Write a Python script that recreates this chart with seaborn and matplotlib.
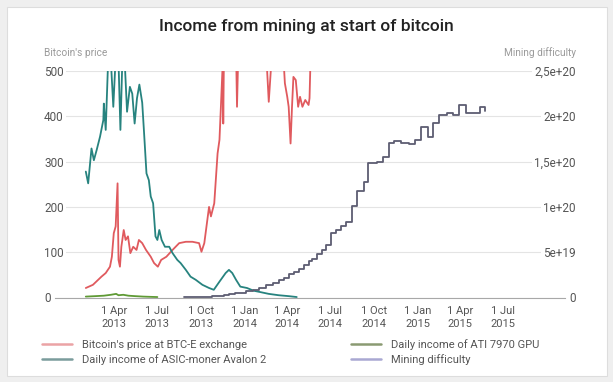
import pandas as pd
import matplotlib.pyplot as plt
import seaborn as sns
from matplotlib.lines import Line2D
from matplotlib.patches import Rectangle

# Bitcoin's price at BTC-E exchange (USD, values above 500 are cut by the axis)
btc_dates = ['2013-01-31', '2013-02-15', '2013-02-26', '2013-03-05', '2013-03-14', '2013-03-23',
             '2013-03-27', '2013-03-31', '2013-04-04', '2013-04-08', '2013-04-10', '2013-04-13',
             '2013-04-16', '2013-04-21', '2013-04-25', '2013-04-30', '2013-05-05', '2013-05-11',
             '2013-05-18', '2013-05-23', '2013-05-30', '2013-06-07', '2013-06-17', '2013-06-24',
             '2013-07-02', '2013-07-09', '2013-07-20', '2013-08-02', '2013-08-16', '2013-08-30',
             '2013-09-13', '2013-09-27', '2013-10-02', '2013-10-08', '2013-10-18', '2013-10-22',
             '2013-10-29', '2013-11-05', '2013-11-09', '2013-11-12', '2013-11-16', '2013-11-17',
             '2013-11-19', '2013-11-25', '2013-12-01', '2013-12-10', '2013-12-16', '2013-12-20',
             '2014-01-05', '2014-01-25', '2014-02-10', '2014-02-21', '2014-03-01', '2014-03-15',
             '2014-03-25', '2014-03-27', '2014-04-01', '2014-04-04', '2014-04-08', '2014-04-11',
             '2014-04-14', '2014-04-19', '2014-04-24', '2014-04-28', '2014-05-03', '2014-05-09',
             '2014-05-16', '2014-05-18', '2014-05-20']
btc_price = [21, 28, 39, 46, 54, 68, 90, 142, 157, 252, 83, 68, 112, 149, 127, 135, 98, 112,
             105, 127, 120, 105, 90, 76, 68, 83, 90, 105, 120, 123, 123, 120, 101, 120, 200, 179,
             208, 318, 348, 421, 520, 384, 600, 900, 1000, 800, 421, 600, 850, 750, 650, 432, 560, 600,
             510, 473, 443, 421, 340, 420, 487, 480, 421, 443, 421, 436, 425, 440, 520]

# Daily income of ASIC-moner Avalon 2
asic_dates = ['2013-01-31', '2013-02-05', '2013-02-12', '2013-02-17', '2013-02-23', '2013-03-02',
              '2013-03-09', '2013-03-10', '2013-03-14', '2013-03-19', '2013-03-24', '2013-03-30',
              '2013-04-04', '2013-04-10', '2013-04-14', '2013-04-18', '2013-04-24', '2013-04-28',
              '2013-05-04', '2013-05-09', '2013-05-14', '2013-05-19', '2013-05-24', '2013-05-30',
              '2013-06-03', '2013-06-08', '2013-06-13', '2013-06-17', '2013-06-22', '2013-06-27',
              '2013-07-01', '2013-07-05', '2013-07-10', '2013-07-17', '2013-07-26', '2013-08-02',
              '2013-08-12', '2013-08-19', '2013-08-30', '2013-09-09', '2013-09-20', '2013-10-04',
              '2013-10-18', '2013-10-28', '2013-11-09', '2013-11-22', '2013-11-29', '2013-12-06',
              '2013-12-14', '2013-12-23', '2014-01-06', '2014-01-20', '2014-02-03', '2014-02-21',
              '2014-03-14', '2014-04-04', '2014-04-21']
asic_income = [278, 252, 329, 303, 326, 355, 392, 428, 370, 520, 540, 421, 530, 520, 370, 520,
               500, 410, 465, 450, 384, 440, 470, 430, 362, 274, 259, 223, 208, 135, 127, 149,
               127, 112, 112, 98, 83, 76, 61, 46, 39, 28, 21, 17, 35, 54, 61, 54, 39, 24, 21,
               15, 12, 8, 5, 3, 1]

# Daily income of ATI 7970 GPU
gpu_dates = ['2013-01-31', '2013-02-20', '2013-03-10', '2013-03-25', '2013-04-05', '2013-04-10',
             '2013-04-20', '2013-05-01', '2013-05-15', '2013-06-01', '2013-06-15', '2013-07-01']
gpu_income = [2, 3, 4, 6, 8, 5, 6, 4, 3, 2, 1.5, 1]

# Mining difficulty (in units of 1e20)
diff_dates = ['2013-08-27', '2013-09-10', '2013-09-24', '2013-10-08', '2013-10-25', '2013-11-07',
              '2013-11-19', '2013-11-30', '2013-12-12', '2013-12-23', '2014-01-05', '2014-01-18',
              '2014-02-01', '2014-02-15', '2014-03-01', '2014-03-15', '2014-03-26', '2014-04-05',
              '2014-04-16', '2014-04-26', '2014-05-07', '2014-05-17', '2014-05-24', '2014-06-03',
              '2014-06-14', '2014-06-21', '2014-07-02', '2014-07-12', '2014-07-23', '2014-08-02',
              '2014-08-15', '2014-08-26', '2014-09-09', '2014-09-19', '2014-10-07', '2014-10-19',
              '2014-11-02', '2014-11-13', '2014-11-28', '2014-12-14', '2014-12-26', '2015-01-08',
              '2015-01-22', '2015-02-03', '2015-02-15', '2015-03-03', '2015-03-17', '2015-03-29',
              '2015-04-14', '2015-05-12', '2015-05-24']
difficulty = [0.003, 0.004, 0.006, 0.009, 0.013, 0.018, 0.025, 0.035, 0.045, 0.055, 0.068, 0.085,
              0.10, 0.14, 0.16, 0.19, 0.22, 0.26, 0.285, 0.32, 0.36, 0.40, 0.43, 0.48, 0.525, 0.58,
              0.71, 0.74, 0.79, 0.83, 1.01, 1.17, 1.28, 1.49, 1.50, 1.55, 1.70, 1.73, 1.71, 1.69,
              1.74, 1.88, 1.77, 1.93, 2.01, 2.04, 2.01, 2.13, 2.04, 2.10, 2.06]

tick_dates = ['2013-04-01', '2013-07-01', '2013-10-01', '2014-01-01', '2014-04-01',
              '2014-07-01', '2014-10-01', '2015-01-01', '2015-04-01', '2015-07-01']
tick_labels = ['1 Apr\n2013', '1 Jul\n2013', '1 Oct\n2013', '1 Jan\n2014', '1 Apr\n2014',
               '1 Jul\n2014', '1 Oct\n2014', '1 Jan\n2015', '1 Apr\n2015', '1 Jul\n2015']
left_ticks = [0, 100, 200, 300, 400, 500]
right_ticks = [0, 0.5e20, 1e20, 1.5e20, 2e20, 2.5e20]
right_labels = ['0', '5e+19', '1e+20', '1,5e+20', '2e+20', '2,5e+20']

series_names = ["Bitcoin's price at BTC-E exchange", "Daily income of ASIC-moner Avalon 2",
                "Daily income of ATI 7970 GPU", "Mining difficulty"]
line_colors = ['#e05a5e', '#27837f', '#5f9a35', '#5d5d72']
legend_colors = ['#eba3a5', '#7a9c9c', '#8a9a72', '#a9a8d2']

sns.set_theme(style='white')
plt.rcParams['font.family'] = ['Roboto', 'DejaVu Sans']

W, H = 613, 382
fig = plt.figure(figsize=(W / 100, H / 100), dpi=100, facecolor='#efefef')
fig.add_artist(Rectangle((7 / W, 1 - 376 / H), 600 / W, 369 / H, transform=fig.transFigure,
                         facecolor='white', edgecolor='#dddddd', lw=0.8, zorder=-1))

ax = fig.add_axes([55 / W, 1 - 297.5 / H, 510 / W, 226.5 / H])
ax.patch.set_visible(False)

btc = pd.DataFrame({'date': pd.to_datetime(btc_dates), 'value': btc_price})
asic = pd.DataFrame({'date': pd.to_datetime(asic_dates), 'value': asic_income})
gpu = pd.DataFrame({'date': pd.to_datetime(gpu_dates), 'value': gpu_income})
diff = pd.DataFrame({'date': pd.to_datetime(diff_dates), 'value': [d * 1e20 for d in difficulty]})

sns.lineplot(data=btc, x='date', y='value', ax=ax, color=line_colors[0], linewidth=1.3)
sns.lineplot(data=asic, x='date', y='value', ax=ax, color=line_colors[1], linewidth=1.3)
sns.lineplot(data=gpu, x='date', y='value', ax=ax, color=line_colors[2], linewidth=1.3)

ax.set_xlim(pd.Timestamp('2012-11-27'), pd.Timestamp('2015-11-08'))
ax.set_ylim(0, 500)
ax.set_xlabel('')
ax.set_ylabel('')

ax2 = ax.twinx()
sns.lineplot(data=diff, x='date', y='value', ax=ax2, color=line_colors[3], linewidth=1.3,
             drawstyle='steps-post')
ax2.set_ylim(0, 2.5e20)
ax2.set_xlim(pd.Timestamp('2012-11-27'), pd.Timestamp('2015-11-08'))
ax2.set_ylabel('')
ax2.set_xlabel('')

# axes styling
ax.grid(axis='y', color='#e4e4e4', lw=0.8)
ax.grid(axis='x', visible=False)
for s in ['top', 'left', 'right']:
    ax.spines[s].set_visible(False)
ax.spines['bottom'].set_color('#a8a8a8')
ax.spines['bottom'].set_linewidth(0.8)
for s in ax2.spines.values():
    s.set_visible(False)
ax2.grid(False)

ax.set_xticks(pd.to_datetime(tick_dates))
ax.set_xticklabels(tick_labels)
ax.tick_params(axis='x', length=4, width=0.8, color='#b0b0b0', labelsize=8,
               labelcolor='#555555', pad=2)
for lbl in ax.get_xticklabels():
    lbl.set_linespacing(1.45)

ax.set_yticks(left_ticks)
ax.set_yticklabels([str(t) for t in left_ticks])
ax.tick_params(axis='y', length=0, pad=7.9, labelsize=8.5, labelcolor='#555555')
for lbl in ax.get_yticklabels():
    lbl.set_horizontalalignment('left')
    lbl.set_bbox(dict(facecolor='white', edgecolor='none', pad=1.5))

ax2.set_yticks(right_ticks)
ax2.set_yticklabels(right_labels)
ax2.tick_params(axis='y', length=0, pad=7.9, labelsize=8.5, labelcolor='#555555')
for lbl in ax2.get_yticklabels():
    lbl.set_horizontalalignment('right')
    lbl.set_bbox(dict(facecolor='white', edgecolor='none', pad=1.5))

fig.text(0.5, 1 - 27 / H, 'Income from mining at start of bitcoin', ha='center', va='center',
         fontsize=12.5, fontweight='medium', color='#222222')
fig.text(44 / W, 1 - 53 / H, "Bitcoin's price", ha='left', va='center', fontsize=7.3,
         color='#9a9a9a')
fig.text(576 / W, 1 - 53 / H, 'Mining difficulty', ha='right', va='center', fontsize=7.3,
         color='#9a9a9a')

handles = [Line2D([], [], color=c, lw=1.8) for c in legend_colors]
fig.legend(handles, series_names, loc='upper left', bbox_to_anchor=(38 / W, 1 - 335 / H),
           ncol=2, frameon=False, fontsize=8, labelcolor='#555555', handlelength=2.7,
           handletextpad=0.9, columnspacing=7.6, labelspacing=0.35, borderaxespad=0)

fig.savefig('out.png', dpi=100, facecolor=fig.get_facecolor())
